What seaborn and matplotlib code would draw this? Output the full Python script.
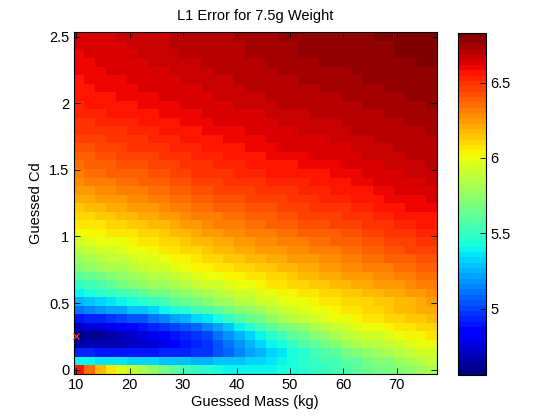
import numpy as np
import pandas as pd
import matplotlib
matplotlib.use("Agg")
import matplotlib.pyplot as plt
import seaborn as sns

plt.rcParams['font.family'] = ['Liberation Sans', 'DejaVu Sans']

# Column centres (guessed mass, kg) and row values (guessed Cd)
mass_kg = [10.5, 12.5, 14.5, 16.5, 18.5, 20.5, 22.5, 24.5, 26.5, 28.5, 30.5, 32.5,
           34.5, 36.5, 38.5, 40.5, 42.5, 44.5, 46.5, 48.5, 50.5, 52.5, 54.5, 56.5,
           58.5, 60.5, 62.5, 64.5, 66.5, 68.5, 70.5, 72.5, 74.5, 76.5]
cd_values = [0.000, 0.064, 0.128, 0.192, 0.256, 0.321, 0.385, 0.449, 0.513, 0.577,
             0.641, 0.705, 0.769, 0.833, 0.897, 0.962, 1.026, 1.090, 1.154, 1.218,
             1.282, 1.346, 1.410, 1.474, 1.538, 1.603, 1.667, 1.731, 1.795, 1.859,
             1.923, 1.987, 2.051, 2.115, 2.179, 2.244, 2.308, 2.372, 2.436, 2.500]

# L1 error, one list per Cd row (bottom row Cd = 0 first)
l1_error = [
 [6.55,6.35,6.18,6.05,5.95,5.88,5.82,5.74,5.67,5.60,5.54,5.49,5.45,5.43,5.41,5.40,5.40,5.40,5.40,5.42,5.44,5.46,5.49,5.51,5.54,5.57,5.60,5.63,5.66,5.69,5.72,5.75,5.78,5.81],
 [5.40,5.39,5.37,5.36,5.35,5.33,5.32,5.31,5.30,5.29,5.27,5.26,5.25,5.27,5.28,5.30,5.32,5.33,5.35,5.39,5.42,5.45,5.49,5.52,5.55,5.59,5.62,5.66,5.70,5.73,5.77,5.81,5.85,5.89],
 [4.92,4.92,4.91,4.91,4.91,4.90,4.90,4.91,4.93,4.94,4.95,4.97,4.98,5.04,5.09,5.15,5.21,5.26,5.32,5.37,5.42,5.47,5.52,5.57,5.62,5.66,5.70,5.74,5.78,5.82,5.85,5.88,5.91,5.94],
 [4.66,4.67,4.68,4.69,4.70,4.71,4.72,4.76,4.80,4.84,4.88,4.92,4.96,5.03,5.10,5.17,5.24,5.31,5.38,5.44,5.50,5.56,5.62,5.68,5.73,5.77,5.81,5.84,5.87,5.90,5.93,5.96,5.98,6.00],
 [4.58,4.61,4.63,4.66,4.69,4.71,4.74,4.79,4.83,4.88,4.93,4.97,5.02,5.10,5.17,5.25,5.32,5.40,5.47,5.53,5.59,5.65,5.71,5.76,5.81,5.85,5.88,5.91,5.94,5.97,6.00,6.02,6.04,6.06],
 [4.72,4.75,4.77,4.80,4.83,4.85,4.88,4.92,4.96,5.01,5.05,5.09,5.13,5.21,5.29,5.38,5.46,5.54,5.62,5.67,5.72,5.76,5.81,5.85,5.89,5.92,5.95,5.98,6.00,6.03,6.05,6.07,6.09,6.11],
 [4.90,4.93,4.95,4.98,5.00,5.03,5.05,5.10,5.15,5.21,5.26,5.31,5.36,5.43,5.49,5.56,5.63,5.69,5.76,5.81,5.85,5.89,5.92,5.96,5.99,6.01,6.03,6.05,6.07,6.09,6.11,6.13,6.15,6.17],
 [5.10,5.13,5.17,5.20,5.23,5.27,5.30,5.34,5.39,5.43,5.47,5.52,5.56,5.61,5.66,5.71,5.75,5.80,5.85,5.89,5.92,5.95,5.98,6.01,6.04,6.06,6.08,6.10,6.12,6.14,6.16,6.18,6.20,6.22],
 [5.25,5.29,5.32,5.36,5.39,5.43,5.46,5.51,5.55,5.60,5.64,5.69,5.73,5.77,5.80,5.84,5.87,5.91,5.94,5.96,5.98,6.01,6.03,6.05,6.07,6.09,6.10,6.12,6.13,6.15,6.16,6.18,6.21,6.24],
 [5.40,5.44,5.47,5.51,5.55,5.58,5.62,5.66,5.69,5.73,5.76,5.80,5.83,5.86,5.89,5.92,5.94,5.97,6.00,6.02,6.04,6.06,6.08,6.10,6.12,6.14,6.15,6.17,6.18,6.20,6.21,6.23,6.26,6.28],
 [5.50,5.54,5.58,5.62,5.66,5.70,5.74,5.77,5.80,5.82,5.85,5.88,5.91,5.93,5.96,5.98,6.00,6.03,6.05,6.07,6.09,6.11,6.13,6.15,6.17,6.19,6.20,6.22,6.23,6.25,6.26,6.28,6.30,6.32],
 [5.62,5.65,5.69,5.72,5.75,5.79,5.82,5.85,5.87,5.90,5.93,5.95,5.98,6.00,6.02,6.04,6.06,6.08,6.10,6.12,6.14,6.16,6.18,6.20,6.22,6.23,6.25,6.26,6.28,6.29,6.31,6.32,6.34,6.36],
 [5.72,5.75,5.78,5.81,5.83,5.86,5.89,5.92,5.94,5.97,5.99,6.02,6.04,6.06,6.08,6.10,6.11,6.13,6.15,6.17,6.19,6.20,6.22,6.24,6.26,6.27,6.29,6.30,6.31,6.33,6.34,6.36,6.38,6.40],
 [5.80,5.83,5.85,5.88,5.90,5.93,5.95,5.97,6.00,6.02,6.04,6.07,6.09,6.11,6.13,6.15,6.16,6.18,6.20,6.22,6.23,6.25,6.26,6.28,6.29,6.31,6.32,6.34,6.35,6.37,6.38,6.40,6.42,6.43],
 [5.87,5.89,5.91,5.94,5.96,5.98,6.00,6.02,6.05,6.07,6.09,6.12,6.14,6.16,6.18,6.20,6.21,6.23,6.25,6.26,6.28,6.29,6.30,6.32,6.33,6.35,6.36,6.38,6.39,6.41,6.42,6.44,6.45,6.46],
 [5.94,5.96,5.98,6.00,6.01,6.03,6.05,6.07,6.10,6.12,6.14,6.17,6.19,6.21,6.22,6.24,6.26,6.27,6.29,6.30,6.32,6.33,6.34,6.36,6.37,6.38,6.40,6.41,6.43,6.44,6.46,6.47,6.48,6.49],
 [6.00,6.02,6.03,6.05,6.07,6.08,6.10,6.12,6.15,6.17,6.19,6.22,6.24,6.26,6.27,6.29,6.30,6.32,6.33,6.34,6.35,6.37,6.38,6.39,6.40,6.42,6.43,6.45,6.46,6.48,6.49,6.51,6.52,6.53],
 [6.05,6.07,6.08,6.10,6.12,6.13,6.15,6.17,6.19,6.22,6.24,6.26,6.28,6.30,6.31,6.33,6.34,6.36,6.37,6.38,6.39,6.41,6.42,6.43,6.44,6.45,6.47,6.48,6.50,6.51,6.53,6.54,6.55,6.56],
 [6.10,6.12,6.13,6.15,6.17,6.18,6.20,6.22,6.24,6.26,6.28,6.30,6.32,6.33,6.35,6.36,6.37,6.39,6.40,6.41,6.42,6.44,6.45,6.46,6.47,6.48,6.50,6.51,6.53,6.54,6.56,6.57,6.57,6.58],
 [6.15,6.17,6.18,6.20,6.21,6.23,6.24,6.26,6.28,6.30,6.32,6.34,6.36,6.37,6.38,6.39,6.41,6.42,6.43,6.44,6.45,6.47,6.48,6.49,6.50,6.51,6.53,6.54,6.55,6.56,6.58,6.59,6.59,6.60],
 [6.20,6.22,6.23,6.25,6.26,6.28,6.29,6.31,6.33,6.35,6.36,6.38,6.40,6.41,6.42,6.43,6.44,6.45,6.46,6.47,6.48,6.50,6.51,6.52,6.53,6.54,6.55,6.56,6.58,6.59,6.60,6.61,6.61,6.62],
 [6.25,6.26,6.28,6.29,6.30,6.32,6.33,6.35,6.36,6.38,6.40,6.41,6.43,6.44,6.45,6.46,6.47,6.48,6.49,6.50,6.51,6.52,6.53,6.54,6.55,6.56,6.57,6.58,6.60,6.61,6.62,6.63,6.63,6.64],
 [6.29,6.30,6.32,6.33,6.34,6.36,6.37,6.39,6.40,6.42,6.43,6.45,6.46,6.47,6.48,6.49,6.50,6.51,6.52,6.53,6.54,6.54,6.55,6.56,6.57,6.58,6.59,6.60,6.62,6.63,6.64,6.65,6.65,6.66],
 [6.33,6.34,6.35,6.37,6.38,6.39,6.40,6.42,6.43,6.45,6.46,6.48,6.49,6.50,6.51,6.52,6.53,6.54,6.55,6.56,6.56,6.57,6.58,6.58,6.59,6.60,6.61,6.62,6.63,6.64,6.65,6.66,6.67,6.68],
 [6.36,6.37,6.38,6.40,6.41,6.42,6.43,6.44,6.46,6.47,6.48,6.50,6.51,6.52,6.53,6.54,6.55,6.56,6.57,6.58,6.58,6.59,6.60,6.60,6.61,6.62,6.63,6.64,6.65,6.66,6.67,6.68,6.68,6.69],
 [6.39,6.40,6.41,6.43,6.44,6.45,6.46,6.47,6.48,6.50,6.51,6.52,6.53,6.54,6.55,6.56,6.57,6.58,6.59,6.60,6.60,6.61,6.62,6.62,6.63,6.64,6.65,6.66,6.66,6.67,6.68,6.69,6.69,6.70],
 [6.42,6.43,6.44,6.46,6.47,6.48,6.49,6.50,6.51,6.52,6.53,6.54,6.55,6.56,6.57,6.58,6.59,6.60,6.61,6.62,6.62,6.63,6.63,6.64,6.64,6.65,6.66,6.67,6.67,6.68,6.69,6.70,6.70,6.71],
 [6.45,6.46,6.47,6.48,6.49,6.50,6.51,6.52,6.53,6.54,6.55,6.56,6.57,6.58,6.59,6.59,6.60,6.61,6.62,6.63,6.63,6.64,6.65,6.65,6.66,6.67,6.67,6.68,6.69,6.69,6.70,6.71,6.71,6.72],
 [6.48,6.49,6.50,6.51,6.51,6.52,6.53,6.54,6.55,6.56,6.57,6.58,6.59,6.60,6.60,6.61,6.62,6.63,6.64,6.65,6.65,6.66,6.66,6.67,6.67,6.68,6.69,6.69,6.70,6.71,6.71,6.72,6.72,6.73],
 [6.50,6.51,6.52,6.53,6.53,6.54,6.55,6.56,6.57,6.58,6.59,6.60,6.61,6.62,6.62,6.63,6.64,6.64,6.65,6.66,6.66,6.67,6.67,6.68,6.68,6.69,6.70,6.70,6.71,6.72,6.72,6.73,6.73,6.74],
 [6.52,6.53,6.54,6.55,6.55,6.56,6.57,6.58,6.59,6.59,6.60,6.61,6.62,6.63,6.63,6.64,6.65,6.65,6.66,6.67,6.67,6.68,6.69,6.69,6.70,6.71,6.71,6.72,6.72,6.73,6.73,6.74,6.74,6.75],
 [6.54,6.55,6.56,6.57,6.57,6.58,6.59,6.60,6.61,6.61,6.62,6.63,6.64,6.65,6.65,6.66,6.67,6.67,6.68,6.69,6.69,6.70,6.70,6.71,6.71,6.72,6.72,6.73,6.73,6.74,6.74,6.75,6.75,6.76],
 [6.56,6.57,6.57,6.58,6.59,6.59,6.60,6.61,6.62,6.62,6.63,6.64,6.65,6.66,6.66,6.67,6.68,6.68,6.69,6.70,6.70,6.71,6.71,6.72,6.72,6.73,6.73,6.74,6.74,6.75,6.75,6.76,6.76,6.77],
 [6.57,6.58,6.59,6.60,6.60,6.61,6.62,6.63,6.63,6.64,6.65,6.65,6.66,6.67,6.67,6.68,6.69,6.69,6.70,6.71,6.71,6.72,6.72,6.73,6.73,6.74,6.74,6.75,6.75,6.76,6.76,6.77,6.77,6.78],
 [6.58,6.59,6.60,6.61,6.61,6.62,6.63,6.64,6.64,6.65,6.66,6.66,6.67,6.68,6.68,6.69,6.70,6.70,6.71,6.72,6.72,6.73,6.73,6.74,6.74,6.75,6.75,6.76,6.76,6.77,6.77,6.78,6.78,6.78],
 [6.59,6.60,6.61,6.62,6.62,6.63,6.64,6.65,6.65,6.66,6.67,6.67,6.68,6.69,6.69,6.70,6.71,6.71,6.72,6.73,6.73,6.74,6.74,6.75,6.75,6.75,6.76,6.76,6.77,6.77,6.78,6.78,6.79,6.79],
 [6.60,6.61,6.62,6.63,6.63,6.64,6.65,6.66,6.66,6.67,6.68,6.68,6.69,6.70,6.70,6.71,6.72,6.72,6.73,6.74,6.74,6.75,6.75,6.76,6.76,6.76,6.77,6.77,6.78,6.78,6.79,6.79,6.80,6.80],
 [6.61,6.62,6.63,6.64,6.64,6.65,6.66,6.67,6.67,6.68,6.69,6.69,6.70,6.71,6.71,6.72,6.73,6.73,6.74,6.75,6.75,6.76,6.76,6.77,6.77,6.77,6.78,6.78,6.79,6.79,6.80,6.80,6.80,6.80],
 [6.62,6.63,6.64,6.64,6.65,6.66,6.67,6.68,6.68,6.69,6.69,6.70,6.70,6.71,6.71,6.72,6.73,6.73,6.74,6.75,6.75,6.76,6.76,6.77,6.77,6.77,6.78,6.78,6.79,6.79,6.80,6.80,6.81,6.81],
 [6.63,6.64,6.64,6.65,6.66,6.66,6.67,6.68,6.68,6.69,6.70,6.70,6.71,6.72,6.72,6.73,6.74,6.74,6.75,6.76,6.76,6.77,6.77,6.78,6.78,6.78,6.79,6.79,6.80,6.80,6.80,6.81,6.81,6.81],
]

# Location of the minimum (red cross)
best_mass = [10.0]
best_cd = [0.256]

x_ticks = [10, 20, 30, 40, 50, 60, 70]
y_ticks = [0, 0.5, 1, 1.5, 2, 2.5]
y_tick_labels = ["0", "0.5", "1", "1.5", "2", "2.5"]
cbar_ticks = [5, 5.5, 6, 6.5]
cbar_tick_labels = ["5", "5.5", "6", "6.5"]

df = pd.DataFrame(l1_error, index=cd_values, columns=mass_kg)

fig = plt.figure(figsize=(5.6, 4.2), dpi=100)
ax = fig.add_axes([0.1313, 0.1095, 0.6491, 0.8135])
cax = fig.add_axes([0.8185, 0.107, 0.049, 0.815])

cmap = plt.get_cmap('jet', 64)
sns.heatmap(df, cmap=cmap, vmin=4.56, vmax=6.83, ax=ax, cbar_ax=cax,
            linewidths=0, xticklabels=False, yticklabels=False)
ax.invert_yaxis()

m_step = (mass_kg[-1] - mass_kg[0]) / (len(mass_kg) - 1)
c_step = (cd_values[-1] - cd_values[0]) / (len(cd_values) - 1)
def mx(m):
    return 0.5 + (np.asarray(m, float) - mass_kg[0]) / m_step
def cy(c):
    return 0.5 + (np.asarray(c, float) - cd_values[0]) / c_step

ax.plot(mx(best_mass), cy(best_cd), 'x', color='#ff3030', ms=5, mew=0.9,
        clip_on=False, zorder=5)

ax.set_xticks(mx(x_ticks))
ax.set_xticklabels([str(t) for t in x_ticks])
ax.set_yticks(cy(y_ticks))
ax.set_yticklabels(y_tick_labels, rotation=0)
ax.tick_params(direction='in', length=4, width=0.6, top=True, right=True,
               labelsize=10.5, colors='black', pad=3)
for s in ax.spines.values():
    s.set_visible(True)
    s.set_color('black')
    s.set_linewidth(0.8)

ax.set_xlabel("Guessed Mass (kg)", fontsize=10.5, labelpad=2)
ax.set_ylabel("Guessed Cd", fontsize=10.5, labelpad=4)
ax.set_title("L1 Error for 7.5g Weight", fontsize=10.5, pad=9)

cbar = ax.collections[0].colorbar
cbar.set_ticks(cbar_ticks)
cbar.set_ticklabels(cbar_tick_labels)
cax.tick_params(direction='in', length=4, width=0.6, labelsize=10.5, right=True, left=False)
cbar.outline.set_visible(True)
cbar.outline.set_edgecolor('black')
cbar.outline.set_linewidth(0.8)

fig.savefig("out.png", dpi=100)
